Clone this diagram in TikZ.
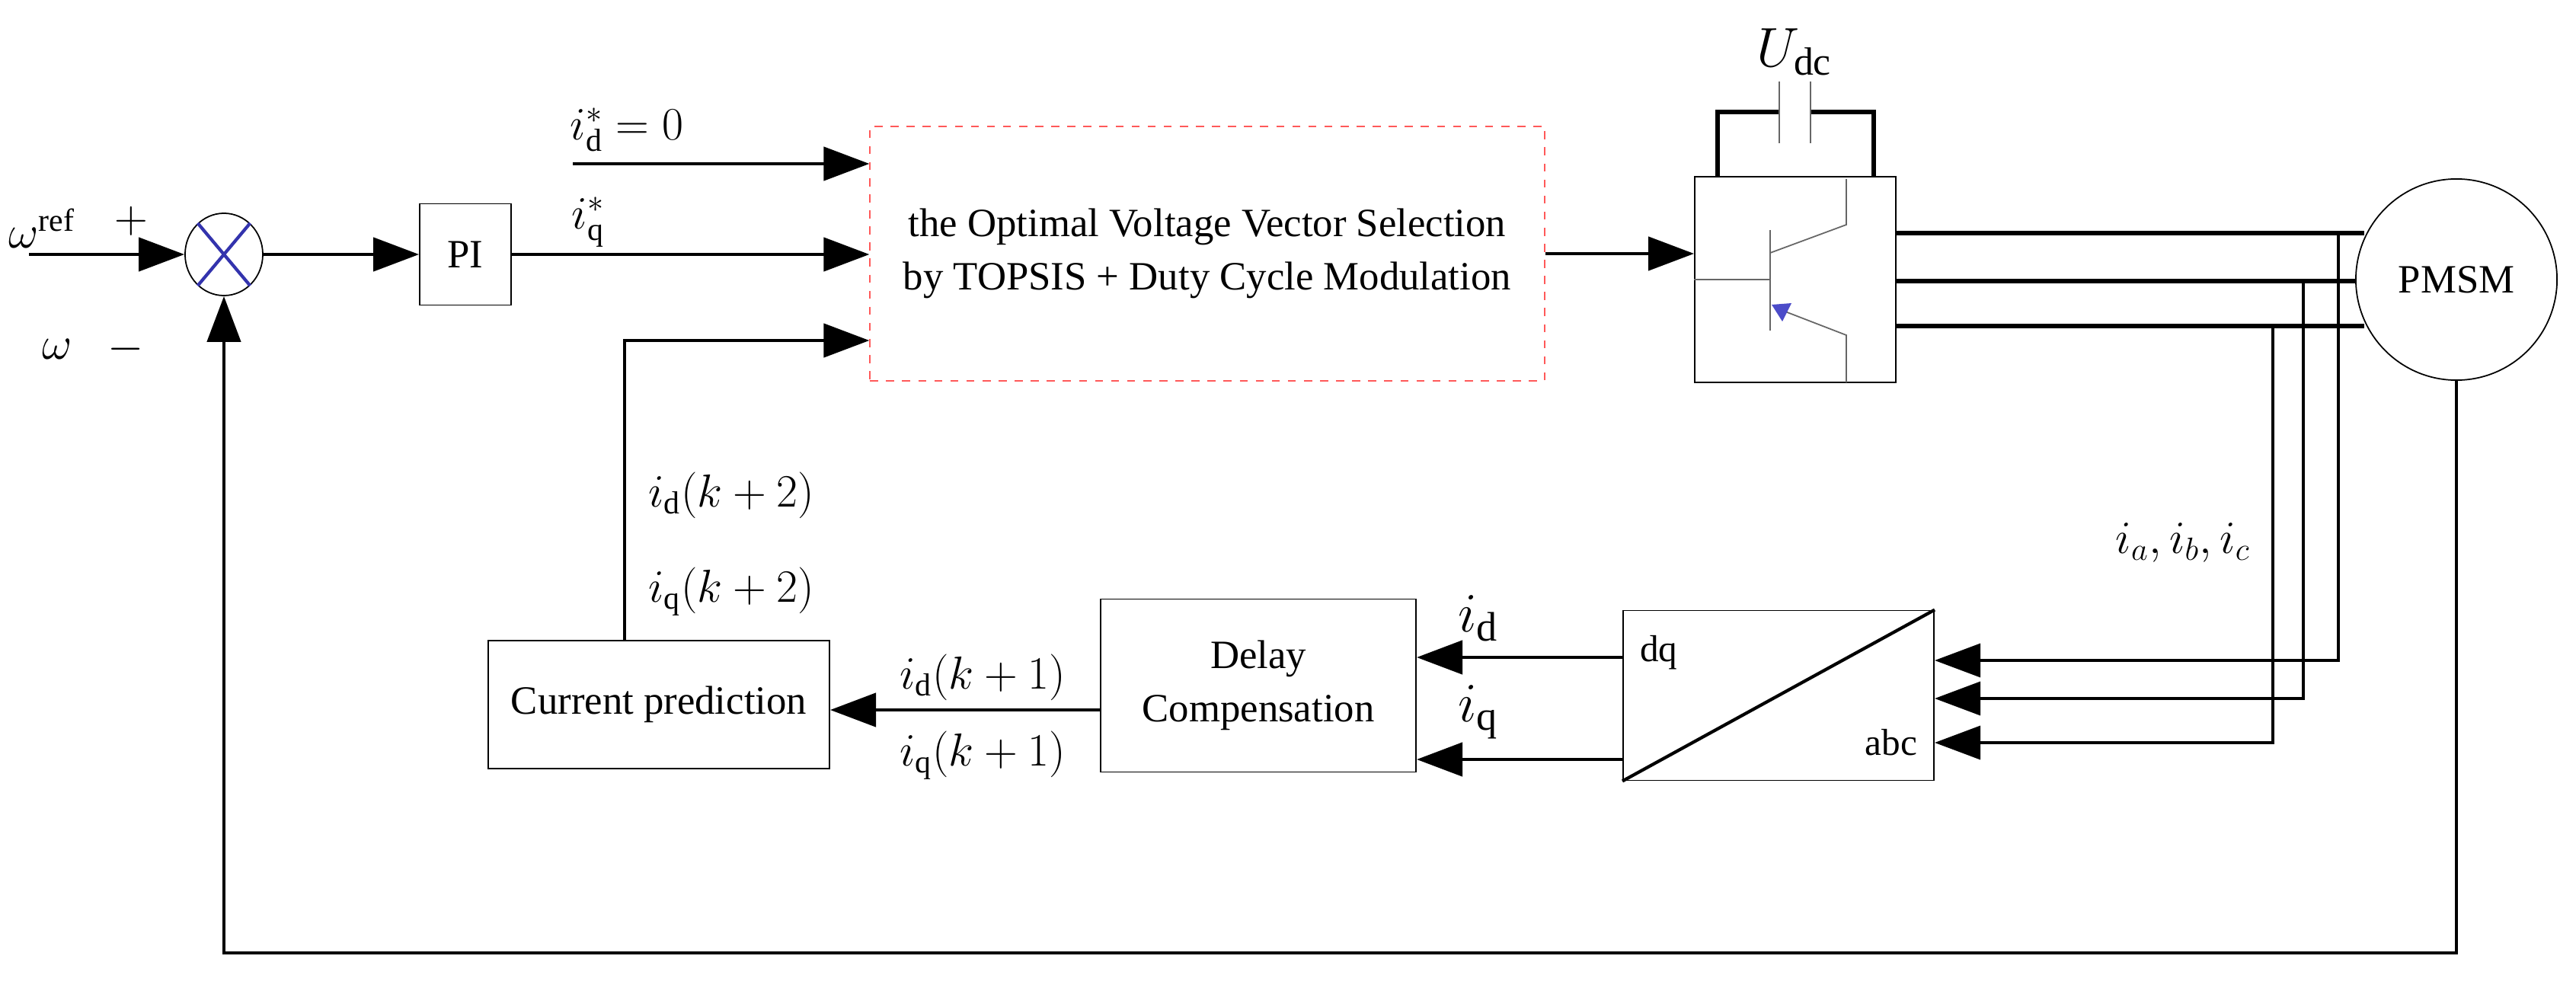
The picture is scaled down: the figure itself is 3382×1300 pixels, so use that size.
\documentclass[tikz,border=0pt]{standalone}
\usepackage{fontspec}
\setmainfont{Liberation Serif}
\usetikzlibrary{arrows.meta,shapes.geometric}
\tikzset{
    block/.style={draw, line width=0.5pt, inner sep=0pt, align=center, font=\fontsize{15}{20}\selectfont},
    sig/.style={line width=1.3pt, -{Triangle[length=0.6cm,width=0.44cm]}},
    bus/.style={line width=1.6pt},
    lab/.style={font=\fontsize{17}{20}\selectfont, inner sep=0pt}
}
\begin{document}
\begin{tikzpicture}[x=0.01cm,y=-0.01cm]
        \useasboundingbox (0,0) rectangle (3382,1300);
        % blocks
        \node[draw, ellipse, minimum width=1.02cm, minimum height=1.08cm, line width=0.5pt] (sum) at (294,334) {};
        \draw[blue!60!black!80, line width=1.2pt] (sum.130) -- (sum.-50) (sum.50) -- (sum.-130);
        \node[block, minimum width=1.2cm, minimum height=1.33cm] (pi) at (611,334) {PI};
        \node[block, draw=red!65, dashed, minimum width=8.85cm, minimum height=3.34cm] (tops) at (1585,333)
            {the Optimal Voltage Vector Selection\\by TOPSIS + Duty Cycle Modulation};
        \node[block, minimum width=2.64cm, minimum height=2.7cm] (inv) at (2357,367) {};
        \node[block, circle, minimum size=2.64cm] (pmsm) at (3225,367) {PMSM};
        \node[block, minimum width=4.08cm, minimum height=2.23cm] (dq) at (2335,913) {};
        \node[block, minimum width=4.14cm, minimum height=2.27cm] (delay) at (1652,900) {Delay\\Compensation};
        \node[block, minimum width=4.48cm, minimum height=1.68cm] (pred) at (865,925) {Current prediction};
        % dq/abc box
        \draw[line width=1.2pt] (dq.south west) -- (dq.north east);
        \node[font=\fontsize{14}{16}\selectfont, anchor=north west] (dqlab) at ([xshift=3pt,yshift=-6pt]dq.north west) {dq};
        \node[font=\fontsize{14}{16}\selectfont, anchor=south east] (abclab) at ([xshift=-3pt,yshift=6pt]dq.south east) {abc};
        % inverter inside
        \coordinate (base1) at (2324,302);
        \coordinate (base2) at (2324,434);
        \draw[gray!80!black, line width=0.5pt] (inv.west |- 0,367) -- (2324,367);
        \draw[gray!80!black, line width=0.5pt] (base1) -- (base2);
        \draw[gray!80!black, line width=0.5pt] (2324,332) -- (2424,295) -- (2424,235);
        \draw[gray!80!black, line width=0.5pt] (2424,502) -- (2424,440) -- (2336,406);
        \fill[blue!70!black!70] (2326,400) -- (2352,398) -- (2340,422) -- cycle;
        % dc link
        \coordinate (capl) at (2336,147);
        \coordinate (capr) at (2377,147);
        \draw[bus] (2255,232) -- (2255,147) -- (capl);
        \draw[bus] (capr) -- (2460,147) -- (2460,232);
        \draw[gray!80!black, line width=0.5pt] (2336,107) -- (2336,188) (2377,107) -- (2377,188);
        \node[lab, font=\fontsize{21}{24}\selectfont] (udc) at (2356,68) {$U_{\mathrm{dc}}$};
        % forward path
        \coordinate (wref) at (38,334);
        \draw[sig] (wref) -- (sum.west);
        \node[lab] (wreflab) at (55,300) {$\omega^{\mathrm{ref}}$};
        \node[lab] (plus) at (172,290) {$+$};
        \node[lab] (minus) at (165,458) {$-$};
        \node[lab] (wlab) at (75,458) {$\omega$};
        \draw[sig] (sum.east) -- (pi.west);
        \coordinate (idin) at (752,215);
        \draw[sig] (idin) -- (idin -| tops.west);
        \node[lab, anchor=south west] (idlab) at (748,200) {$i_{\mathrm{d}}^{*}=0$};
        \draw[sig] (pi.east) -- (pi.east -| tops.west);
        \node[lab, anchor=south west] (iqlab) at (750,325) {$i_{\mathrm{q}}^{*}$};
        \draw[sig] (tops.east) -- (tops.east -| inv.west);
        % three phases
        \coordinate (pa) at (3104,306);
        \coordinate (pb) at (3093,369);
        \coordinate (pc) at (3104,428);
        \draw[bus] (inv.east |- pa) -- (pa);
        \draw[bus] (inv.east |- pb) -- (pb);
        \draw[bus] (inv.east |- pc) -- (pc);
        \draw[sig, line width=1pt] (3070,306) |- (dq.east |- 0,867);
        \draw[sig, line width=1pt] (3024,369) |- (dq.east |- 0,917);
        \draw[sig, line width=1pt] (2984,428) |- (dq.east |- 0,975);
        \node[lab, anchor=east] (iabc) at (2955,712) {$i_a,i_b,i_c$};
        % feedback currents
        \draw[sig] (dq.west |- 0,863) -- (delay.east |- 0,863);
        \draw[sig] (dq.west |- 0,997) -- (delay.east |- 0,997);
        \node[lab, font=\fontsize{22}{26}\selectfont] (idfb) at (1941,812) {$i_{\mathrm{d}}$};
        \node[lab, font=\fontsize{22}{26}\selectfont] (iqfb) at (1941,935) {$i_{\mathrm{q}}$};
        \draw[sig] (delay.west |- 0,932) -- (pred.east |- 0,932);
        \node[lab] (id1) at (1290,889) {$i_{\mathrm{d}}(k+1)$};
        \node[lab] (iq1) at (1290,992) {$i_{\mathrm{q}}(k+1)$};
        \coordinate (up) at (820,447);
        \draw[sig] (pred.north -| up) -- (up) -- (up -| tops.west);
        \node[lab] (id2) at (960,650) {$i_{\mathrm{d}}(k+2)$};
        \node[lab] (iq2) at (960,777) {$i_{\mathrm{q}}(k+2)$};
        % speed feedback
        \coordinate (fb) at (3225,1251);
        \draw[sig] (pmsm.south) -- (fb) -| (sum.south);
    \end{tikzpicture}
\end{document}
